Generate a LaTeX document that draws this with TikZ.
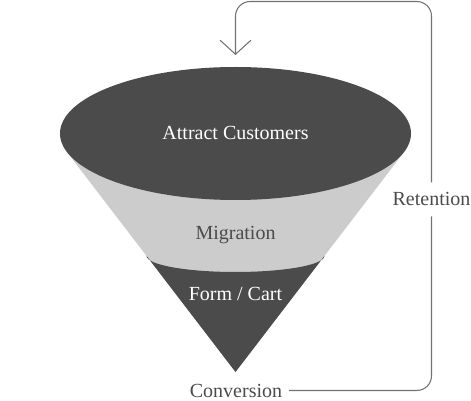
\documentclass[tikz,border=0pt]{standalone}
\usepackage{fontspec}
\setmainfont{Liberation Serif}
\usetikzlibrary{arrows.meta}
\definecolor{funneldark}{HTML}{4B4B4B}
\definecolor{funnellight}{HTML}{CBCCCB}
\definecolor{loopgray}{HTML}{727272}
\tikzset{
  stage/.style={anchor=base,inner sep=5pt,font=\fontsize{15}{18}\selectfont},
  loopline/.style={draw=loopgray,line width=0.8pt,rounded corners=11pt}
}
\begin{document}
\begin{tikzpicture}[x=0.75pt,y=0.75pt]
 \useasboundingbox (0,0) rectangle (471,400);
 % cone
 \fill[funnellight] (66.9,248)--(404.1,248)--(235.5,28)--cycle;
 \fill[funneldark] (146.6,144) arc[start angle=180,end angle=360,x radius=88.9,y radius=16]--(235.5,28)--cycle;
 \fill[funneldark] (235.5,266.5) ellipse[x radius=175.5,y radius=66.5];
 \node[stage,text=white] (attract) at (235.5,260.7) {Attract Customers};
 \node[stage,text=funneldark] (migration) at (235.5,160) {Migration};
 \node[stage,text=white] (cart) at (235.5,99.3) {Form / Cart};
 \node[stage,text=funneldark] (conversion) at (236,3) {Conversion};
 \node[stage,text=funneldark,inner ysep=7.5pt] (retention) at (431.5,194) {Retention};
 \coordinate (entry) at (235.5,345);
 % loop back
 \draw[loopline] (conversion.east)-|(retention.south);
 \draw[loopline,-{Straight Barb[length=10.5pt,width=23pt]}] (retention.north)|-(235.5,398.5)--(entry);
\end{tikzpicture}
\end{document}
